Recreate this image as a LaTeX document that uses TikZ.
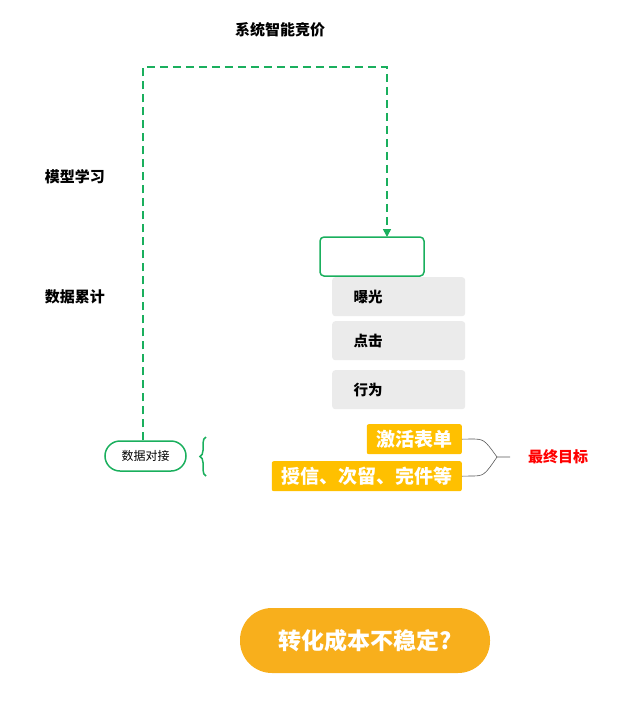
\documentclass[tikz,border=0pt]{standalone}
\usepackage{fontspec}
\setmainfont{Noto Sans CJK SC}
\usetikzlibrary{arrows.meta,decorations.pathreplacing}
\definecolor{gr}{HTML}{1AAF5D}
\definecolor{yel}{HTML}{FFC000}
\definecolor{org}{HTML}{F8AF1C}
\definecolor{lg}{HTML}{EBEBEB}
\tikzset{lbl/.style={font=\bfseries\fontsize{15pt}{16pt}\selectfont},
glbl/.style={font=\bfseries\fontsize{14.5pt}{16pt}\selectfont,anchor=west},
graybox/.style={fill=lg,rounded corners=3pt,minimum width=133pt,minimum height=39pt,anchor=north west,inner sep=0pt},
ybox/.style={fill=yel,rounded corners=2pt,text=white,font=\bfseries\fontsize{19pt}{20pt}\selectfont,inner sep=0pt,minimum height=30pt,anchor=north east}}
\begin{document}
\begin{tikzpicture}[x=1pt,y=-1pt]
\useasboundingbox (0,0) rectangle (624,710);
\node[lbl] (title) at (280,30) {系统智能竞价};
\node[lbl] (mx) at (75,177) {模型学习};
\node[lbl] (sj) at (75,297) {数据累计};
\node[draw=gr,line width=1.5pt,rounded corners=4pt,minimum width=104pt,minimum height=39pt,inner sep=0pt] (top) at (372,256.5) {};
\node[graybox] (b1) at (332,277) {}; \node[glbl] (t1) at (350,297) {曝光};
\node[graybox] (b2) at (332,321) {}; \node[glbl] (t2) at (350,341) {点击};
\node[graybox] (b3) at (332,370) {}; \node[glbl] (t3) at (350,390) {行为};
\node[draw=gr,line width=1.5pt,rounded corners=15pt,minimum width=81pt,minimum height=30pt,inner sep=0pt,font=\fontsize{12pt}{13pt}\selectfont] (dj) at (145.5,456) {数据对接};
\draw[gr,line width=1.5pt,dashed,dash pattern=on 8pt off 5pt,-{Triangle[length=8pt,width=8pt]}] (dj.north -| 143,0) -- (143,67) -- (387,67) -- (387,237);
\draw[gr,line width=1.5pt,decorate,decoration={brace,amplitude=6pt}] (206,476) -- (206,437);
\node[ybox,minimum width=95pt] (y1) at (462,424) {激活表单};
\node[ybox,minimum width=190pt] (y2) at (462,461) {授信、次留、完件等};
\coordinate (f) at (497,457);
\draw[gray!70!black,line width=0.6pt] (y1.east) -- (470,439) .. controls (484,439) .. (f) -- (510,457);
\draw[gray!70!black,line width=0.6pt] (y2.east) -- (470,476) .. controls (484,476) .. (f);
\node[text=red,font=\bfseries\fontsize{15pt}{16pt}\selectfont] (goal) at (558,457) {最终目标};
\node[fill=org,rounded corners=32pt,minimum width=250pt,minimum height=65pt,inner sep=0pt,text=white,font=\bfseries\fontsize{23pt}{24pt}\selectfont] (cost) at (365,640.5) {转化成本不稳定?};
\end{tikzpicture}
\end{document}
